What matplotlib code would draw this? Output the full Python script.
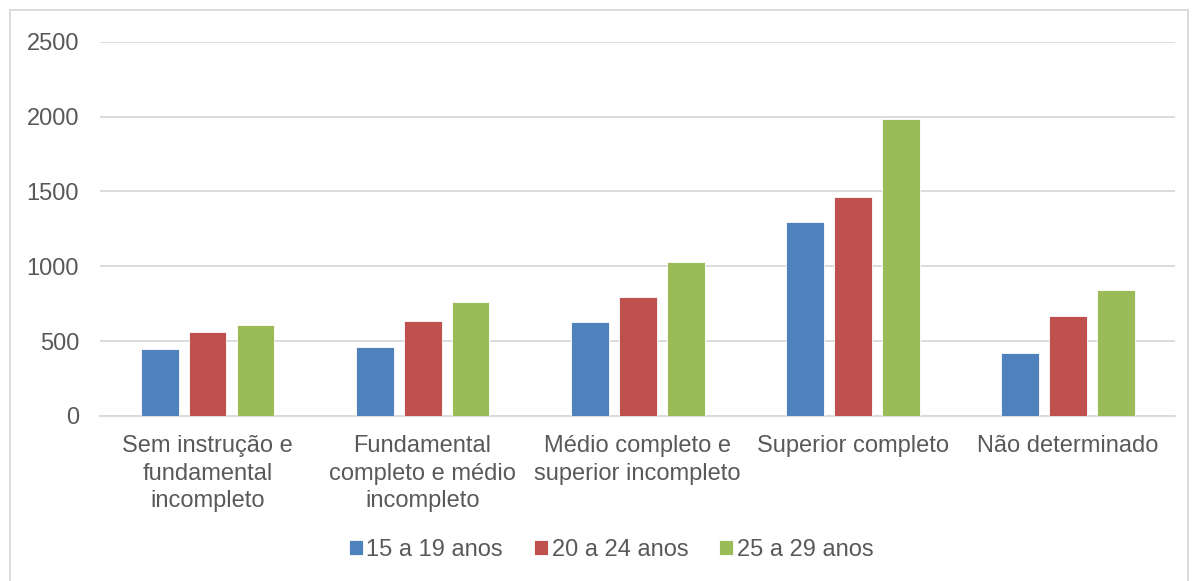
import numpy as np
import matplotlib
matplotlib.use("Agg")
import matplotlib.pyplot as plt
from matplotlib.patches import Rectangle

categories = [
    "Sem instrução e\nfundamental\nincompleto",
    "Fundamental\ncompleto e médio\nincompleto",
    "Médio completo e\nsuperior incompleto",
    "Superior completo",
    "Não determinado",
]
series_names = ["15 a 19 anos", "20 a 24 anos", "25 a 29 anos"]
v_15_19 = [445, 463, 628, 1296, 423]
v_20_24 = [559, 632, 795, 1465, 668]
v_25_29 = [608, 763, 1029, 1984, 842]
colors = ["#4F81BD", "#C0504D", "#9BBB59"]

plt.rcParams['font.family'] = ['Liberation Sans', 'DejaVu Sans']
text_color = "#595959"

fig = plt.figure(figsize=(11.98, 5.81), dpi=100)
ax = fig.add_axes([0.0835, 0.284, 0.8975, 0.644])

x = np.arange(len(categories))
width = 0.176
step = 0.223
for i, (vals, name) in enumerate(zip([v_15_19, v_20_24, v_25_29], series_names)):
    ax.bar(x + (i - 1) * step, vals, width, color=colors[i], label=name,
           edgecolor="white", linewidth=0.6, zorder=3)

ax.set_xlim(-0.5, len(categories) - 0.5)
ax.set_ylim(0, 2500)
ax.set_yticks(range(0, 2501, 500))
ax.grid(axis="y", color="#D9D9D9", linewidth=1.3, zorder=0)
for s in ["top", "right", "left"]:
    ax.spines[s].set_visible(False)
ax.spines["bottom"].set_color("#D9D9D9")
ax.spines["bottom"].set_linewidth(1.3)
ax.tick_params(axis="both", length=0, labelsize=17, colors=text_color)
ax.tick_params(axis="y", pad=15)
ax.tick_params(axis="x", pad=14)
ax.set_xticks(x)
ax.set_xticklabels(categories, linespacing=1.3)

fig.legend(loc="center", bbox_to_anchor=(0.51, 0.053), ncol=3, frameon=False,
           fontsize=17, labelcolor=text_color, handlelength=0.6, handleheight=0.6,
           handletextpad=0.15, columnspacing=1.3)

fig.patches.append(Rectangle((10 / 1198, -0.02), 1178 / 1198, 1 - 10 / 581 + 0.02,
                             transform=fig.transFigure, fill=False,
                             edgecolor="#D9D9D9", linewidth=1.3))

fig.savefig("out.png", dpi=100)
